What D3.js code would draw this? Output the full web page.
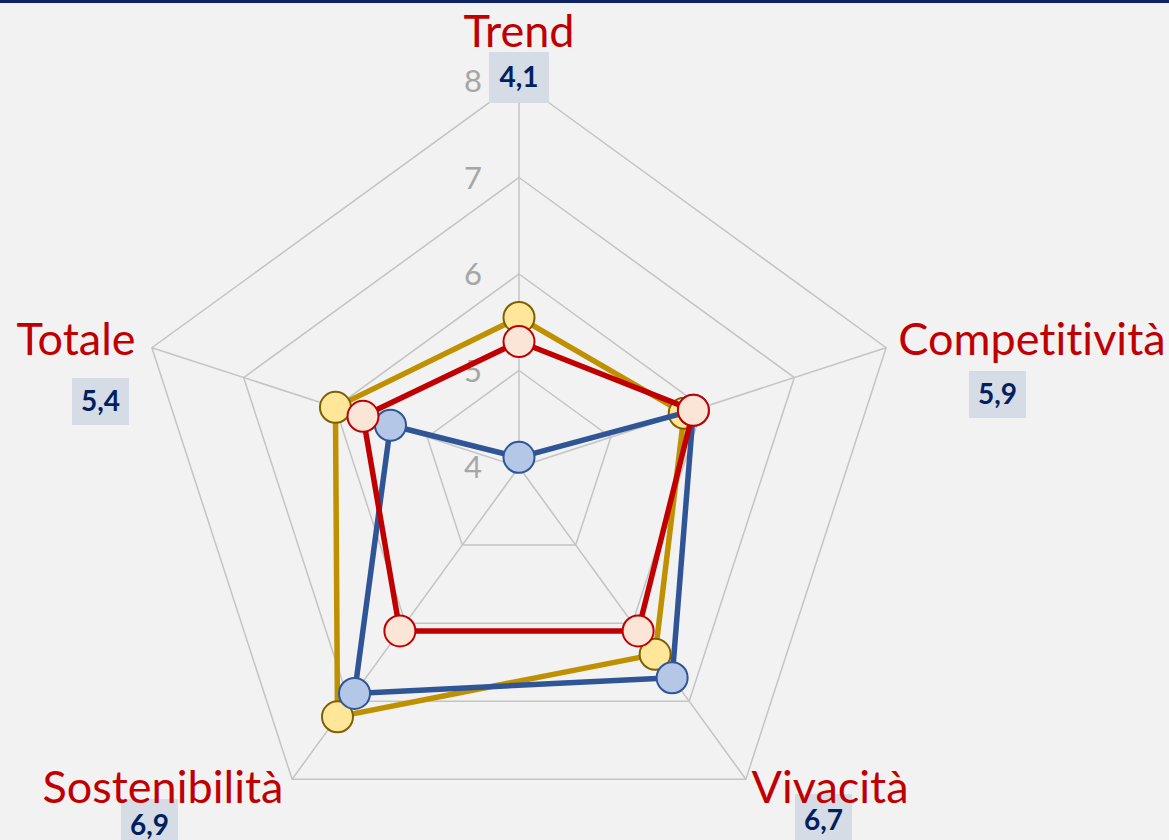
<!DOCTYPE html>
<html>
<head>
<meta charset="utf-8">
<script src="https://cdn.jsdelivr.net/npm/d3@7"></script>
<style>
  html, body { margin: 0; padding: 0; background: #f2f2f2; }
  svg { display: block; }
  text { font-variant-ligatures: none; font-feature-settings: "liga" 0; }
</style>
</head>
<body>
<svg id="chart" width="1169" height="840"></svg>
<script>
// Radar chart: five indicators, three series
const categories = ["Trend", "Competitività", "Vivacità", "Sostenibilità", "Totale"];
const seriesGold = [5.55, 5.8, 6.4, 7.2, 6.0];
const seriesBlue = [4.1, 5.9, 6.7, 6.9, 5.4];
const seriesRed  = [5.3, 5.9, 6.1, 6.1, 5.7];
const tickValues = [4, 5, 6, 7, 8];
const valueLabels = ["4,1", "5,9", "6,7", "6,9", "5,4"];

const W = 1169, H = 840;
const cx = 519, cy = 467, R = 386;
const FONT = "Lato, 'Open Sans', sans-serif";

const svg = d3.select("#chart");
svg.append("rect").attr("width", W).attr("height", H).attr("fill", "#f2f2f2");
svg.append("rect").attr("width", W).attr("height", 3).attr("fill", "#0e2366");

const r = d3.scaleLinear().domain([4, 8]).range([0, R]);
const angle = d3.scaleLinear().domain([0, categories.length]).range([0, 2 * Math.PI]);

const g = svg.append("g").attr("transform", `translate(${cx},${cy})`);

const px = (i, v) => r(v) * Math.sin(angle(i));
const py = (i, v) => -r(v) * Math.cos(angle(i));

// grid rings
const ringLine = d3.line().curve(d3.curveLinearClosed);
tickValues.filter(t => t > 4).forEach(t => {
  g.append("path")
    .attr("d", ringLine(categories.map((c, i) => [px(i, t), py(i, t)])))
    .attr("fill", "none")
    .attr("stroke", "#c4c4c4")
    .attr("stroke-width", 1.5);
});

// spokes
categories.forEach((c, i) => {
  g.append("line")
    .attr("x1", 0).attr("y1", 0)
    .attr("x2", px(i, 8)).attr("y2", py(i, 8))
    .attr("stroke", "#c4c4c4")
    .attr("stroke-width", 1.5);
});

// tick labels along the top axis
g.selectAll("text.tick")
  .data(tickValues)
  .join("text")
  .attr("class", "tick")
  .attr("x", -37)
  .attr("y", d => -r(d))
  .attr("dy", "0.36em")
  .attr("text-anchor", "end")
  .attr("font-family", FONT)
  .attr("font-size", 31)
  .attr("fill", "#a6a6a6")
  .text(d => d);

// value boxes (positioned per category)
const boxLayout = [
  { x: 489, y: 52, w: 60, h: 51, ty: 77 },
  { x: 969, y: 371, w: 57, h: 47, ty: 394 },
  { x: 795, y: 794, w: 57, h: 50, ty: 820 },
  { x: 121, y: 799, w: 57, h: 45, ty: 825 },
  { x: 72, y: 378, w: 57, h: 47, ty: 401 }
];
const boxes = svg.append("g");
valueLabels.forEach((lab, i) => {
  const b = boxLayout[i];
  boxes.append("rect")
    .attr("x", b.x).attr("y", b.y).attr("width", b.w).attr("height", b.h)
    .attr("fill", "#d6dce5");
  boxes.append("text")
    .attr("x", b.x + b.w / 2)
    .attr("y", b.ty)
    .attr("dy", "0.36em")
    .attr("text-anchor", "middle")
    .attr("font-family", FONT)
    .attr("font-weight", "bold")
    .attr("font-size", 28)
    .attr("fill", "#002060")
    .text(lab);
});

// category labels
const catLayout = [
  { x: 519, y: 47 },
  { x: 1032, y: 355 },
  { x: 830, y: 803 },
  { x: 163, y: 803 },
  { x: 76, y: 355 }
];
svg.append("g").selectAll("text")
  .data(categories)
  .join("text")
  .attr("x", (d, i) => catLayout[i].x)
  .attr("y", (d, i) => catLayout[i].y)
  .attr("text-anchor", "middle")
  .attr("font-family", FONT)
  .attr("font-size", 45)
  .attr("fill", "#c00000")
  .text(d => d);

// series
const series = [
  { values: seriesGold, line: "#bf9000", fill: "#ffe699", stroke: "#7f6000" },
  { values: seriesBlue, line: "#2f5597", fill: "#b4c7e7", stroke: "#2f5597" },
  { values: seriesRed,  line: "#c00000", fill: "#fbe5d6", stroke: "#c00000" }
];
const radial = d3.lineRadial()
  .angle((d, i) => angle(i))
  .radius(d => r(d))
  .curve(d3.curveLinearClosed);

series.forEach(s => {
  const sg = g.append("g");
  sg.append("path")
    .attr("d", radial(s.values))
    .attr("fill", "none")
    .attr("stroke", s.line)
    .attr("stroke-width", 5.5)
    .attr("stroke-linejoin", "round");
  sg.selectAll("circle")
    .data(s.values)
    .join("circle")
    .attr("cx", (d, i) => px(i, d))
    .attr("cy", (d, i) => py(i, d))
    .attr("r", 15.5)
    .attr("fill", s.fill)
    .attr("stroke", s.stroke)
    .attr("stroke-width", 2);
});
</script>
</body>
</html>
